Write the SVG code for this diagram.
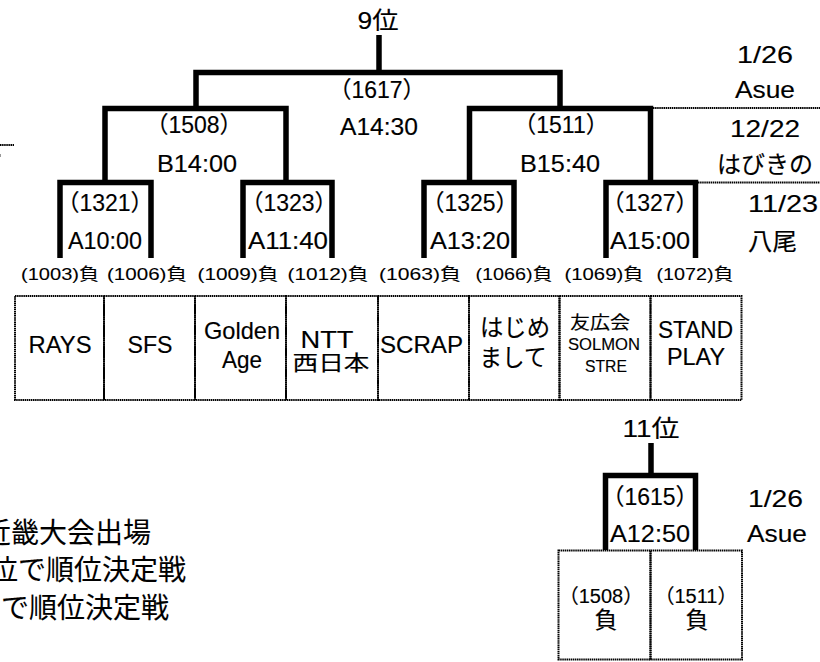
<svg xmlns="http://www.w3.org/2000/svg" width="820" height="662" viewBox="0 0 820 662">
<style>
.t{font-family:"Liberation Sans","Noto Sans CJK JP",sans-serif;fill:#000;stroke:#000;stroke-width:0.15;text-anchor:middle;}
.big{font-size:24px;}
.par{font-size:23px;}
.leaf{font-size:17px;stroke-width:0.1;}
.nm{font-size:24px;}
.note{font-size:28px;text-anchor:end;stroke-width:0.1;}
.thick{fill:none;stroke:#000;stroke-width:5.5;stroke-linejoin:miter;stroke-linecap:butt;}
.dot{fill:none;stroke:#000;stroke-width:2;stroke-dasharray:1.5 0.6;}
</style>
<rect width="820" height="662" fill="#fff"/>

<g id="connectors">
  <path class="thick" d="M379 35V72.5"/>
  <path class="thick" d="M196 108.5V72.5H560V108.5"/>
  <path class="thick" d="M105 182.5V108.5H286V182.5"/>
  <path class="thick" d="M469.5 182.5V108.5H650.5V182.5"/>
  <path class="thick" d="M60 258V182.5H151V258"/>
  <path class="thick" d="M243 258V182.5H332V258"/>
  <path class="thick" d="M424 258V182.5H514V258"/>
  <path class="thick" d="M606 258V182.5H695.5V258"/>
  <path class="thick" d="M651 443V475.5"/>
  <path class="thick" d="M605.5 550V475.5H695.5V550"/>
  <path class="dot" d="M653 108H820"/>
  <path class="dot" d="M698 182.5H820"/>
  <path class="dot" d="M0 145H14"/>
  <rect x="0" y="154" width="1" height="3" fill="#999"/>
</g>

<g id="final-9">
  <text class="t big" x="378" y="29" textLength="41" lengthAdjust="spacingAndGlyphs">9位</text>
</g>
<g id="m1617">
  <text class="t par" x="377" y="98">（1617）</text>
  <text class="t big" x="379" y="135" textLength="78" lengthAdjust="spacingAndGlyphs">A14:30</text>
</g>
<g id="m1508">
  <text class="t par" x="194" y="133">（1508）</text>
  <text class="t big" x="197" y="172" textLength="80" lengthAdjust="spacingAndGlyphs">B14:00</text>
</g>
<g id="m1511">
  <text class="t par" x="561" y="133">（1511）</text>
  <text class="t big" x="560" y="172" textLength="80" lengthAdjust="spacingAndGlyphs">B15:40</text>
</g>
<g id="m1321">
  <text class="t par" x="105" y="211">（1321）</text>
  <text class="t big" x="105" y="249" textLength="74" lengthAdjust="spacingAndGlyphs">A10:00</text>
</g>
<g id="m1323">
  <text class="t par" x="289" y="211">（1323）</text>
  <text class="t big" x="288" y="249" textLength="80" lengthAdjust="spacingAndGlyphs">A11:40</text>
</g>
<g id="m1325">
  <text class="t par" x="470" y="211">（1325）</text>
  <text class="t big" x="470" y="249" textLength="80" lengthAdjust="spacingAndGlyphs">A13:20</text>
</g>
<g id="m1327">
  <text class="t par" x="650" y="211">（1327）</text>
  <text class="t big" x="650" y="249" textLength="80" lengthAdjust="spacingAndGlyphs">A15:00</text>
</g>

<g id="venues">
  <text class="t big" x="765" y="63" textLength="56" lengthAdjust="spacingAndGlyphs">1/26</text>
  <text class="t big" x="765" y="98" textLength="60" lengthAdjust="spacingAndGlyphs">Asue</text>
  <text class="t big" x="765" y="137" textLength="70" lengthAdjust="spacingAndGlyphs">12/22</text>
  <text class="t big" x="765" y="173" textLength="96" lengthAdjust="spacingAndGlyphs">はびきの</text>
  <text class="t big" x="783" y="212" textLength="70" lengthAdjust="spacingAndGlyphs">11/23</text>
  <text class="t big" x="772.5" y="250" textLength="49" lengthAdjust="spacingAndGlyphs">八尾</text>
</g>

<g id="leaf-labels">
  <text class="t leaf" x="60" y="280" textLength="78" lengthAdjust="spacingAndGlyphs">(1003)負</text>
  <text class="t leaf" x="147" y="280" textLength="80" lengthAdjust="spacingAndGlyphs">(1006)負</text>
  <text class="t leaf" x="238" y="280" textLength="81" lengthAdjust="spacingAndGlyphs">(1009)負</text>
  <text class="t leaf" x="328" y="280" textLength="81" lengthAdjust="spacingAndGlyphs">(1012)負</text>
  <text class="t leaf" x="420" y="280" textLength="82" lengthAdjust="spacingAndGlyphs">(1063)負</text>
  <text class="t leaf" x="514" y="280" textLength="77" lengthAdjust="spacingAndGlyphs">(1066)負</text>
  <text class="t leaf" x="604" y="280" textLength="79" lengthAdjust="spacingAndGlyphs">(1069)負</text>
  <text class="t leaf" x="695" y="280" textLength="77" lengthAdjust="spacingAndGlyphs">(1072)負</text>
</g>

<g id="team-rays">
  <rect class="dot" x="15" y="296" width="89" height="104"/>
  <text class="t nm" x="60" y="353" textLength="63" lengthAdjust="spacingAndGlyphs">RAYS</text>
</g>
<g id="team-sfs">
  <rect class="dot" x="104" y="296" width="91" height="104"/>
  <text class="t nm" x="150" y="353" textLength="45" lengthAdjust="spacingAndGlyphs">SFS</text>
</g>
<g id="team-golden">
  <rect class="dot" x="195" y="296" width="91" height="104"/>
  <text class="t nm" x="242" y="339" textLength="76" lengthAdjust="spacingAndGlyphs">Golden</text>
  <text class="t nm" x="242" y="368" textLength="40" lengthAdjust="spacingAndGlyphs">Age</text>
</g>
<g id="team-ntt">
  <rect class="dot" x="286" y="296" width="92" height="104"/>
  <text class="t nm" x="327" y="348" textLength="53" lengthAdjust="spacingAndGlyphs">NTT</text>
  <text class="t" x="331" y="370" font-size="21" textLength="77" lengthAdjust="spacingAndGlyphs">西日本</text>
</g>
<g id="team-scrap">
  <rect class="dot" x="378" y="296" width="91" height="104"/>
  <text class="t nm" x="421.5" y="353" textLength="83" lengthAdjust="spacingAndGlyphs">SCRAP</text>
</g>
<g id="team-hajime">
  <rect class="dot" x="469" y="296" width="90.5" height="104"/>
  <text class="t nm" x="515" y="336" textLength="70" lengthAdjust="spacingAndGlyphs">はじめ</text>
  <text class="t nm" x="513" y="366" textLength="67" lengthAdjust="spacingAndGlyphs">まして</text>
</g>
<g id="team-yukokai">
  <rect class="dot" x="559.5" y="296" width="91" height="104"/>
  <text class="t" x="600" y="329" font-size="18" textLength="60" lengthAdjust="spacingAndGlyphs">友広会</text>
  <text class="t" x="604" y="350" font-size="16.5" textLength="72" lengthAdjust="spacingAndGlyphs">SOLMON</text>
  <text class="t" x="606" y="372" font-size="16.5" textLength="42" lengthAdjust="spacingAndGlyphs">STRE</text>
</g>
<g id="team-stand">
  <rect class="dot" x="650.5" y="296" width="91" height="104"/>
  <text class="t nm" x="695.5" y="338" textLength="75" lengthAdjust="spacingAndGlyphs">STAND</text>
  <text class="t nm" x="696" y="365" textLength="58" lengthAdjust="spacingAndGlyphs">PLAY</text>
</g>

<g id="final-11">
  <text class="t big" x="651" y="437" textLength="57" lengthAdjust="spacingAndGlyphs">11位</text>
</g>
<g id="m1615">
  <text class="t par" x="650" y="505">（1615）</text>
  <text class="t big" x="650" y="542" textLength="80" lengthAdjust="spacingAndGlyphs">A12:50</text>
  <text class="t big" x="775.5" y="507" textLength="55" lengthAdjust="spacingAndGlyphs">1/26</text>
  <text class="t big" x="777" y="542" textLength="60" lengthAdjust="spacingAndGlyphs">Asue</text>
</g>
<g id="loser-1508">
  <rect class="dot" x="558.5" y="550.5" width="92" height="109"/>
  <text class="t" x="601" y="603" font-size="20">（1508）</text>
  <text class="t" x="606" y="628" font-size="23">負</text>
</g>
<g id="loser-1511">
  <rect class="dot" x="650.5" y="550.5" width="91.5" height="109"/>
  <text class="t" x="696" y="603" font-size="20">（1511）</text>
  <text class="t" x="697" y="628" font-size="23">負</text>
</g>

<g id="notes">
  <text class="t note" x="151" y="543">近畿大会出場</text>
  <text class="t note" x="186" y="580">位で順位決定戦</text>
  <text class="t note" x="169" y="618">で順位決定戦</text>
</g>
</svg>
